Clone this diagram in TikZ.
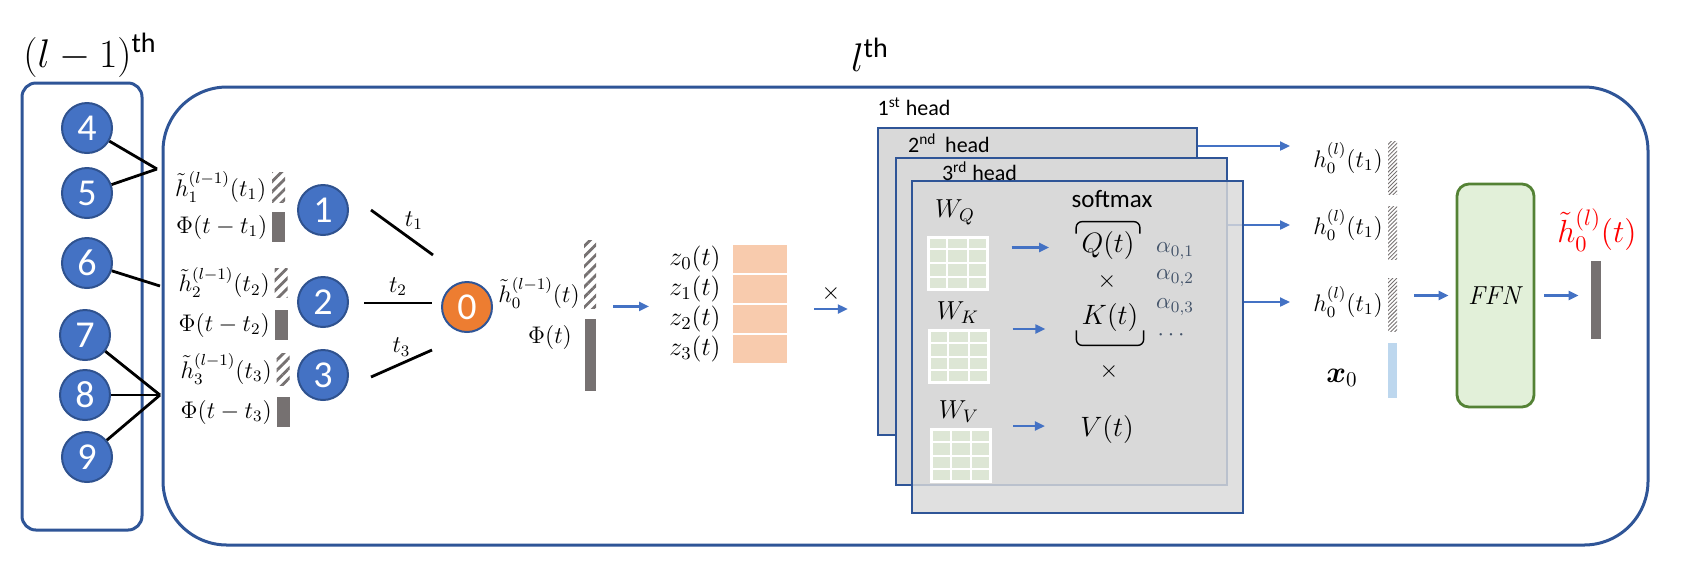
\RequirePackage{fix-cm}
\documentclass[tikz,border=0pt]{standalone}
\usepackage{fontspec}
\setsansfont{Carlito}
\usepackage{amsmath}
\usepackage{bm}
\usetikzlibrary{arrows.meta}
\usetikzlibrary{positioning}
\usetikzlibrary{patterns.meta}
\usetikzlibrary{calc}

\definecolor{frameblue}{HTML}{2F5597}
\definecolor{nodeblue}{HTML}{4472C4}
\definecolor{nodeedge}{HTML}{2F528F}
\definecolor{nodeorange}{HTML}{ED7D31}
\definecolor{barblue}{HTML}{4472C4}
\definecolor{headgray}{HTML}{D9D9D9}
\definecolor{gridgreen}{HTML}{DDE6D5}
\definecolor{zpeach}{HTML}{F8CBAD}
\definecolor{embgray}{HTML}{767171}
\definecolor{featblue}{HTML}{BDD7EE}
\definecolor{ffnfill}{HTML}{E2F0D9}
\definecolor{ffnedge}{HTML}{548235}
\definecolor{coefgray}{HTML}{44546A}

\tikzset {
  % frames of the two layers
  layer box/.style = {
    draw = frameblue,
    line width = 1.5pt,
    rounded corners = 7pt
  },
  layer title/.style = {
    font = \fontsize{20}{22}\selectfont,
    inner sep = 0
  },
  % graph node
  nd/.style = {
    circle,
    fill = nodeblue,
    draw = nodeedge,
    line width = 1pt,
    minimum size = 25pt,
    inner sep = 0,
    text = white,
    font = \sffamily\fontsize{19}{22}\selectfont
  },
  nbr line/.style = {
    draw = black,
    line width = 1.4pt
  },
  barrow/.style = {
    draw = barblue,
    line width = 1.1pt,
    -{Triangle[length = 5pt, width = 4.5pt]}
  }
}
\tikzset {
  lbl/.style = {
    font = \fontsize{12}{14}\selectfont,
    inner sep = 0
  },
  mlbl/.style = {
    font = \fontsize{14}{16}\selectfont,
    inner sep = 0
  },
  htxt/.style = {
    font = \sffamily\fontsize{11}{13}\selectfont,
    inner sep = 0
  },
  coef lbl/.style = {
    font = \fontsize{11.5}{13}\selectfont,
    text = coefgray,
    inner sep = 0
  },
  % embedding bars
  hatch bar/.style = {
    rectangle,
    minimum width = 6.5pt,
    inner sep = 0,
    pattern = {Lines[angle = 45, distance = 3.6pt, line width = 1.4pt]},
    pattern color = embgray
  },
  fine bar/.style = {
    rectangle,
    minimum width = 4.5pt,
    minimum height = 26.5pt,
    inner sep = 0,
    pattern = {Lines[angle = 45, distance = 1.4pt, line width = 0.45pt]},
    pattern color = embgray
  },
  emb bar/.style = {
    rectangle,
    minimum width = 6.5pt,
    inner sep = 0,
    fill = embgray
  },
  zcell/.style = {
    rectangle,
    fill = zpeach,
    draw = white,
    line width = 1pt,
    minimum width = 28pt,
    minimum height = 15pt,
    inner sep = 0
  },
  head box/.style = {
    rectangle,
    fill = headgray,
    draw = frameblue,
    line width = 1.2pt,
    inner sep = 0
  },
  wgrid/.style = {
    rectangle,
    fill = gridgreen,
    draw = white,
    line width = 1.5pt,
    minimum width = 29.5pt,
    minimum height = 26pt,
    inner sep = 0
  },
  brace line/.style = {
    draw = black,
    line width = 0.7pt,
    rounded corners = 3pt
  },
  ffn box/.style = {
    rectangle,
    rounded corners = 6pt,
    fill = ffnfill,
    draw = ffnedge,
    line width = 1.4pt,
    minimum width = 38.5pt,
    minimum height = 111.5pt,
    inner sep = 0,
    font = \fontsize{13}{15}\selectfont
  }
}

\begin{document}
\begin{tikzpicture}[x = 0.5pt, y = -0.5pt]
  \useasboundingbox (0,0) rectangle (1685,586);

  \node[layer title] (tprev) at (90,55) {$(l-1)^{\textsf{th}}$};
  \node[layer title] (tcur) at (870,55) {$l^{\textsf{th}}$};

  \node[layer box, minimum width = 60pt, minimum height = 223.5pt] (prev) at (82,306.5) {};
  \node[layer box, rounded corners = 32pt, minimum width = 742.5pt, minimum height = 229pt] (cur) at (905.5,316) {};

  % previous layer
  \foreach \k/\px/\py in {4/87/128, 5/87/193, 6/87/263, 7/85/335, 8/85/395, 9/87/457}
    \node[nd] (n\k) at (\px,\py) {\k};
  \coordinate (j45) at (157,169);
  \coordinate (j6) at (160,286);
  \coordinate (j789) at (160,395);
  \draw[nbr line] (n4) -- (j45);
  \draw[nbr line] (n5) -- (j45);
  \draw[nbr line] (n6) -- (j6);
  \foreach \k in {7,8,9}
    \draw[nbr line] (n\k) -- (j789);

  % neighbour embeddings
  \node[hatch bar, minimum height = 15pt] (hb1) at (278.5,187) {};
  \node[emb bar, minimum height = 15pt] (gb1) at (278.5,227) {};
  \node[hatch bar, minimum height = 14.5pt] (hb2) at (281,282.5) {};
  \node[emb bar, minimum height = 15pt] (gb2) at (281,325) {};
  \node[hatch bar, minimum height = 16pt] (hb3) at (283,369) {};
  \node[emb bar, minimum height = 15pt] (gb3) at (283,412) {};
  \node[lbl] (h1) [left = 2pt of hb1] {$\tilde{h}_1^{(l-1)}(t_1)$};
  \node[lbl] (phi1) [left = 2pt of gb1] {$\Phi(t-t_1)$};
  \node[lbl] (h2) [left = 2pt of hb2] {$\tilde{h}_2^{(l-1)}(t_2)$};
  \node[lbl] (phi2) [left = 2pt of gb2] {$\Phi(t-t_2)$};
  \node[lbl] (h3) [left = 2pt of hb3] {$\tilde{h}_3^{(l-1)}(t_3)$};
  \node[lbl] (phi3) [left = 2pt of gb3] {$\Phi(t-t_3)$};

  \node[nd] (n1) at (323,210) {1};
  \node[nd] (n2) at (323,302) {2};
  \node[nd] (n3) at (323,375) {3};
  \node[nd, fill = nodeorange, draw = frameblue] (n0) at (467,307) {0};

  \draw[nbr line] ($(n1.east)+(22,0)$) -- node[lbl, above right = 1pt] {$t_1$} ($(n0)+(-34,-52)$);
  \draw[nbr line] ($(n2.east)+(15,1)$) -- node[lbl, above = 3pt] {$t_2$} ($(n0)+(-35,-4)$);
  \draw[nbr line] ($(n3.east)+(22,2)$) -- node[lbl, above = 3pt] {$t_3$} ($(n0)+(-35,43)$);

  % target node
  \node[hatch bar, minimum width = 6pt, minimum height = 34pt] (hb0) at (590,274) {};
  \node[emb bar, minimum width = 5.5pt, minimum height = 36pt] (gb0) at (590.5,355) {};
  \node[lbl] (h0) at (539,293) {$\tilde{h}_0^{(l-1)}(t)$};
  \node[lbl] (phi0) at (550,337) {$\Phi(t)$};

  \foreach \i/\zy in {0/259, 1/289, 2/319, 3/349} {
    \node[zcell] (z\i) at (760,\zy) {};
    \node[lbl, font = \fontsize{13}{15}\selectfont] (zl\i) [left = 5pt of z\i] {$z_{\i}(t)$};
  }
  \draw[barrow] ($(hb0.south east)+(17,-2)$) -- ($(zl1.west |- hb0.south east)+(-20,-2)$);

  % attention heads
  \node[head box, minimum width = 159.5pt, minimum height = 153.5pt] (head1) at (1037.5,281.5) {};
  \node[htxt] (t1st) at (914,107) {1\textsuperscript{st} head};
  \coordinate (o1) at (1290,146);
  \draw[barrow] (head1.east |- o1) -- (o1);

  \node[head box, minimum width = 165.5pt, minimum height = 163.5pt] (head2) at (1061.5,321.5) {};
  \node[htxt] (t2nd) at (949,143) {2\textsuperscript{nd}\, head};
  \coordinate (o2) at (1290,225);
  \draw[barrow] (head2.east |- o2) -- (o2);

  \node[head box, fill opacity = 0.82, minimum width = 165.5pt, minimum height = 166pt] (head3) at (1077.5,347) {};
  \node[htxt] (t3rd) at (979.5,171) {3\textsuperscript{rd} head};
  \coordinate (o3) at (1290,302);
  \draw[barrow] (head3.east |- o3) -- (o3);

  \draw[barrow] ($(z1.south east)+(25,4)$) -- node[lbl, above = 3pt, black] {$\times$} ($(head1.west |- z1.south east)+(-29,4)$);

  % weight matrices
  \foreach \g/\gx/\gy in {gq/957.5/263, gk/958.5/356.5, gv/961/455.5} {
    \node[wgrid] (\g) at (\gx,\gy) {};
    \foreach \f in {1,2}
      \draw[white, line width = 1pt] ($(\g.north west)!\f/3!(\g.north east)$) -- ($(\g.south west)!\f/3!(\g.south east)$);
    \foreach \f in {1,2,3}
      \draw[white, line width = 1pt] ($(\g.north west)!\f/4!(\g.south west)$) -- ($(\g.north east)!\f/4!(\g.south east)$);
  }
  \node[mlbl, font = \fontsize{13}{15}\selectfont] (wq) at (955,212) {$W_Q$};
  \node[mlbl, font = \fontsize{13}{15}\selectfont] (wk) at (958,313) {$W_K$};
  \node[mlbl, font = \fontsize{13}{15}\selectfont] (wv) at (959,412) {$W_V$};

  \node[htxt, font = \sffamily\fontsize{12.5}{14}\selectfont] (smax) at (1112,199) {softmax};
  \node[mlbl] (qt) at (1108,245) {$Q(t)$};
  \node[lbl] (x1) at (1107,281) {$\times$};
  \node[mlbl] (kt) at (1110,317) {$K(t)$};
  \node[lbl] (x2) at (1109,371) {$\times$};
  \node[mlbl] (vt) at (1107,429) {$V(t)$};
  \draw[brace line] ($(qt.north west)+(-5,3)$) |- ($(qt.north)+(0,-9)$) -| ($(qt.north east)+(5,3)$);
  \draw[brace line] ($(kt.south west)+(-5,-1)$) |- ($(kt.south)+(0,14)$) -| ($(kt.south east)+(5,-1)$);

  \draw[barrow] ($(gq.north east)+(23,12)$) -- ($(qt.west |- gq.north east)+(-32,12)$);
  \draw[barrow] ($(gk.north east)+(23,0)$) -- ($(kt.west |- gk.north east)+(-36,0)$);
  \draw[barrow] ($(gv.north east)+(21,-2)$) -- ($(vt.west |- gv.north east)+(-35,-2)$);

  \foreach \i/\ay in {1/251, 2/278, 3/307}
    \node[coef lbl] (al\i) at (1175,\ay) {$\alpha_{0,\i}$};
  \node[coef lbl] (aldots) at (1173,335) {$\cdots$};

  % head outputs and feed-forward
  \foreach \i/\hy/\by in {1/158/167.5, 2/225/232.5, 3/302/304.5} {
    \node[fine bar] (hf\i) at (1392.5,\by) {};
    \node[lbl] (hl\i) at (1348,\hy) {$h_0^{(l)}(t_1)$};
  }
  \node[emb bar, fill = featblue, minimum width = 4.5pt, minimum height = 27.5pt] (xb) at (1392.5,370.5) {};
  \node[lbl, font = \fontsize{15}{18}\selectfont] (x0) at (1342,378) {$\bm{x}_0$};

  \node[ffn box] (ffn) at (1495.5,295.5) {\textit{FFN}};
  \draw[barrow] ($(hf3.east |- ffn.west)+(17,0)$) -- ($(ffn.west)+(-7,0)$);

  \node[emb bar, minimum width = 5pt, minimum height = 39pt] (out) at (1596,300) {};
  \draw[barrow] ($(ffn.east)+(9,0)$) -- ($(out.west |- ffn.east)+(-12,0)$);
  \node[lbl, text = red, font = \fontsize{16}{18}\selectfont] (hout) at (1597,230) {$\tilde{h}_0^{(l)}(t)$};

\end{tikzpicture}
\end{document}
